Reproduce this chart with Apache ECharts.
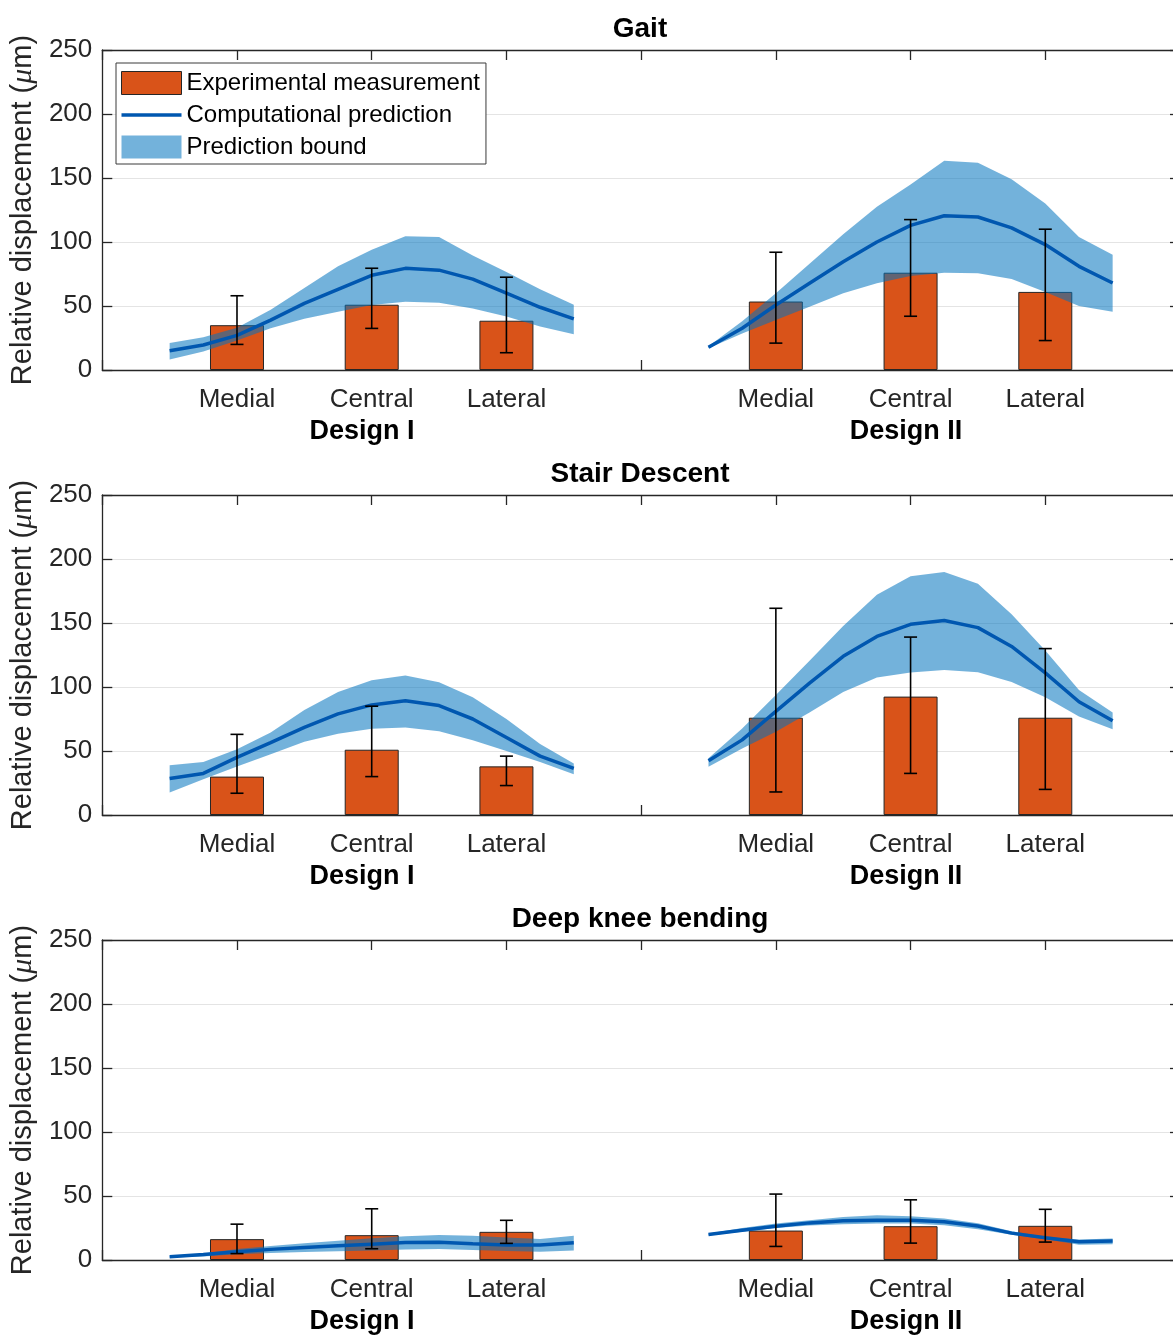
<!DOCTYPE html>
<html>
<head>
<meta charset="utf-8">
<script src="https://cdn.jsdelivr.net/npm/echarts@6/dist/echarts.min.js"></script>
<style>
html, body { margin: 0; padding: 0; background: #fff; overflow: hidden; }
#chart { width: 1190px; height: 1335px; }
</style>
</head>
<body>
<div id="chart"></div>
<script>
// ---- Labels ----
const panelTitles = ['Gait', 'Stair Descent', 'Deep knee bending'];
const designNames = ['Design I', 'Design II'];
const regionNames = ['Medial', 'Central', 'Lateral', 'Medial', 'Central', 'Lateral'];
const seriesNames = ['Experimental measurement', 'Computational prediction', 'Prediction bound'];
const yTickValues = [0, 50, 100, 150, 200, 250];

// bar centres on the shared x axis (Design I: 1-3, Design II: 5-7)
const barX = [1, 2, 3, 5, 6, 7];
// sample positions of the computed curves
const curveXI  = [0.5, 0.75, 1, 1.25, 1.5, 1.75, 2, 2.25, 2.5, 2.75, 3, 3.25, 3.5];
const curveXII = [4.5, 4.75, 5, 5.25, 5.5, 5.75, 6, 6.25, 6.5, 6.75, 7, 7.25, 7.5];

// ---- Gait ----
const gaitBars    = [35, 51, 38.5, 53.5, 76, 61];
const gaitErrLow  = [20, 32.5, 13.5, 21, 42, 23];
const gaitErrHigh = [58, 79.5, 72.5, 92, 117.5, 110];
const gaitLineI   = [15, 19.5, 27, 39, 52, 63, 74, 79.4, 78, 71, 60, 49, 40];
const gaitUpperI  = [21, 25.5, 33, 47, 64, 81, 94, 104.5, 104, 89.5, 76.5, 63, 51];
const gaitLowerI  = [8.3, 14.5, 23, 32.6, 40, 45.6, 50.8, 53.4, 52.6, 48, 41.7, 33.9, 28];
const gaitLineII  = [17.7, 32.6, 50.8, 67.7, 84.5, 100, 113, 120.5, 119.5, 111, 98, 81, 68];
const gaitUpperII = [18.5, 38, 60, 83, 106, 127.5, 145, 163.5, 162, 149, 130, 104, 90];
const gaitLowerII = [17, 28.6, 39, 49.5, 60, 67.7, 73.4, 76, 75.5, 71, 61, 50, 45.6];

// ---- Stair Descent ----
const stairBars    = [30, 51, 38, 76, 92.5, 76];
const stairErrLow  = [17, 30, 23, 18, 32.5, 20];
const stairErrHigh = [63, 85, 46, 161.5, 139, 130];
const stairLineI   = [28.5, 32.5, 45, 56.5, 68.5, 79, 86, 89.3, 85.5, 75, 60.6, 46, 36.5];
const stairUpperI  = [38.9, 41.5, 51.4, 64.5, 82, 96, 105.3, 108.9, 103.7, 92, 75, 55.5, 40.2];
const stairLowerI  = [17.5, 27.9, 37.9, 47.5, 57.3, 63.5, 67.3, 68.4, 65.5, 58.4, 50, 41.5, 31.9];
const stairLineII  = [42.3, 58.7, 81, 103, 124, 139.5, 149, 152, 146.4, 131.7, 111, 88.5, 73.6];
const stairUpperII = [44.4, 67.6, 93.7, 120.5, 147.7, 172, 186.6, 189.8, 180.7, 156.8, 128.5, 97.7, 80];
const stairLowerII = [37.6, 52, 65, 80, 96, 107.5, 111.3, 113.3, 111.5, 104, 92, 77, 67];

// ---- Deep knee bending ----
const deepBars    = [16.3, 19.4, 22, 23, 26.4, 26.7];
const deepErrLow  = [5, 8.8, 13, 10.6, 13.2, 14];
const deepErrHigh = [28, 40, 31, 51.5, 47, 39.6];
const deepLineI   = [2.6, 4.3, 6.5, 8.3, 9.8, 11.2, 12.4, 13.6, 13.8, 12.6, 11.7, 11.7, 13.5];
const deepUpperI  = [3, 5, 8.5, 11, 13, 15, 17, 18.5, 19.5, 19, 17.5, 16.5, 19];
const deepLowerI  = [2, 2.8, 4.5, 5.5, 6.2, 6.8, 7.5, 8.2, 8.5, 7.8, 7, 6.5, 7.5];
const deepLineII  = [20, 23.3, 26.4, 29, 30.6, 31, 31, 29.8, 26.5, 21, 17.4, 14.3, 14.8];
const deepUpperII = [20.7, 25, 28.5, 31, 33.5, 35, 34.2, 32.5, 28.7, 22.5, 18.2, 16, 16.8];
const deepLowerII = [19.2, 22, 25, 27, 28, 28.5, 28.5, 27.2, 24, 19.8, 16.2, 12, 12.4];

// ---- Assemble panels ----
const panels = [
  { bars: gaitBars, lo: gaitErrLow, hi: gaitErrHigh,
    curves: [[curveXI, gaitLineI, gaitLowerI, gaitUpperI], [curveXII, gaitLineII, gaitLowerII, gaitUpperII]] },
  { bars: stairBars, lo: stairErrLow, hi: stairErrHigh,
    curves: [[curveXI, stairLineI, stairLowerI, stairUpperI], [curveXII, stairLineII, stairLowerII, stairUpperII]] },
  { bars: deepBars, lo: deepErrLow, hi: deepErrHigh,
    curves: [[curveXI, deepLineI, deepLowerI, deepUpperI], [curveXII, deepLineII, deepLowerII, deepUpperII]] }
];

const FONT = '"Liberation Sans", Arial, Helvetica, sans-serif';
const AXIS_COLOR = '#262626';
const BAR_COLOR = '#D95319';
const LINE_COLOR = '#0057B0';
const BAND_COLOR = 'rgba(0,114,189,0.55)';

const gridTops = [50, 495, 940];
const PLOT_H = 320;

const tickLabelMap = {};
barX.forEach((x, i) => { tickLabelMap[x] = regionNames[i]; });

const grids = [], xAxes = [], yAxes = [], series = [], graphics = [];

gridTops.forEach((top, p) => {
  grids.push({ left: 100, top: top, width: 1080, height: PLOT_H, containLabel: false });

  const baseX = {
    type: 'value', gridIndex: p, min: 0, max: 8, interval: 1,
    axisLine: { show: true, onZero: false, lineStyle: { color: AXIS_COLOR, width: 1.3 } },
    axisTick: { show: true, inside: true, length: 10, lineStyle: { color: AXIS_COLOR, width: 1.3 } },
    splitLine: { show: false }
  };
  xAxes.push(Object.assign({}, baseX, {
    position: 'bottom',
    axisLabel: {
      show: true, margin: 17, fontSize: 26, color: AXIS_COLOR, fontFamily: FONT,
      formatter: v => tickLabelMap[v] || ''
    }
  }));
  xAxes.push(Object.assign({}, baseX, { position: 'top', axisLabel: { show: false } }));

  const baseY = {
    type: 'value', gridIndex: p, min: 0, max: 250, interval: 50,
    axisLine: { show: true, onZero: false, lineStyle: { color: AXIS_COLOR, width: 1.3 } },
    axisTick: { show: true, inside: true, length: 10, lineStyle: { color: AXIS_COLOR, width: 1.3 } }
  };
  yAxes.push(Object.assign({}, baseY, {
    position: 'left',
    axisLabel: { show: true, margin: 10, fontSize: 26, color: AXIS_COLOR, fontFamily: FONT,
      customValues: yTickValues },
    splitLine: { show: true, lineStyle: { color: '#e4e4e4', width: 1.2 } },
    name: 'Relative displacement ({i|μ}m)',
    nameLocation: 'middle', nameRotate: 90, nameGap: 56,
    nameTextStyle: {
      fontSize: 29, color: AXIS_COLOR, fontFamily: FONT,
      rich: { i: { fontSize: 30, fontStyle: 'italic', fontFamily: '"Liberation Serif", "DejaVu Serif", serif', color: AXIS_COLOR } }
    }
  }));
  yAxes.push(Object.assign({}, baseY, {
    position: 'right', axisLabel: { show: false }, splitLine: { show: false }
  }));

  const xi = p * 2, yi = p * 2;
  const d = panels[p];

  // measured means
  series.push({
    name: seriesNames[0], type: 'bar', xAxisIndex: xi, yAxisIndex: yi,
    barWidth: 54, z: 2,
    itemStyle: { color: BAR_COLOR, borderColor: AXIS_COLOR, borderWidth: 1 },
    data: barX.map((x, i) => [x, d.bars[i]])
  });

  // prediction bands and mean curves, one per design
  d.curves.forEach(([xs, line, lower, upper]) => {
    series.push({
      name: seriesNames[2], type: 'custom', xAxisIndex: xi, yAxisIndex: yi, z: 3,
      encode: { x: 0, y: [1, 2] },
      data: xs.map((x, k) => [x, lower[k], upper[k]]),
      renderItem: (params, api) => {
        if (params.dataIndex !== 0) return null;
        const pts = [];
        for (let k = 0; k < xs.length; k++) pts.push(api.coord([xs[k], upper[k]]));
        for (let k = xs.length - 1; k >= 0; k--) pts.push(api.coord([xs[k], lower[k]]));
        return { type: 'polygon', shape: { points: pts }, style: { fill: BAND_COLOR } };
      },
      itemStyle: { color: BAND_COLOR },
      silent: true
    });
    series.push({
      name: seriesNames[1], type: 'line', xAxisIndex: xi, yAxisIndex: yi, z: 4,
      symbol: 'none', smooth: false,
      lineStyle: { color: LINE_COLOR, width: 3.5 },
      itemStyle: { color: LINE_COLOR },
      data: xs.map((x, k) => [x, line[k]])
    });
  });

  // error bars
  series.push({
    name: 'error', type: 'custom', xAxisIndex: xi, yAxisIndex: yi, z: 5,
    encode: { x: 0, y: [1, 2] },
    data: barX.map((x, i) => [x, d.lo[i], d.hi[i]]),
    renderItem: (params, api) => {
      const x = api.value(0);
      const a = api.coord([x, api.value(2)]);
      const b = api.coord([x, api.value(1)]);
      const cap = 6.5;
      const st = { stroke: '#000', lineWidth: 1.6 };
      return { type: 'group', children: [
        { type: 'line', shape: { x1: a[0], y1: a[1], x2: b[0], y2: b[1] }, style: st },
        { type: 'line', shape: { x1: a[0] - cap, y1: a[1], x2: a[0] + cap, y2: a[1] }, style: st },
        { type: 'line', shape: { x1: b[0] - cap, y1: b[1], x2: b[0] + cap, y2: b[1] }, style: st }
      ] };
    },
    silent: true
  });

  // panel title and design labels
  graphics.push({
    type: 'text', x: 640, y: top - 21,
    style: { text: panelTitles[p], font: 'bold 28px ' + FONT, fill: '#000',
      textAlign: 'center', textVerticalAlign: 'middle' }
  });
  [362, 906].forEach((cx, k) => {
    graphics.push({
      type: 'text', x: cx, y: top + PLOT_H + 62,
      style: { text: designNames[k], font: 'bold 27px ' + FONT, fill: '#000',
        textAlign: 'center', textVerticalAlign: 'middle' }
    });
  });
});

const chart = echarts.init(document.getElementById('chart'), null, { renderer: 'canvas' });
chart.setOption({
  animation: false,
  backgroundColor: '#fff',
  grid: grids,
  xAxis: xAxes,
  yAxis: yAxes,
  legend: {
    left: 116, top: 63, orient: 'vertical',
    padding: [8, 6, 5, 5], itemGap: 8, itemWidth: 60, itemHeight: 23,
    backgroundColor: '#fff', borderColor: '#3a3a3a', borderWidth: 1,
    selectedMode: false,
    textStyle: { fontSize: 24, color: '#000', fontFamily: FONT },
    data: [
      { name: seriesNames[0], icon: 'rect', itemStyle: { color: BAR_COLOR, borderColor: AXIS_COLOR, borderWidth: 1 } },
      { name: seriesNames[1], icon: 'path://M0,0 L60,0 L60,3.5 L0,3.5 Z',
        itemStyle: { color: LINE_COLOR, borderWidth: 0 } },
      { name: seriesNames[2], icon: 'rect', itemStyle: { color: BAND_COLOR } }
    ]
  },
  graphic: graphics,
  series: series
});
</script>
</body>
</html>
